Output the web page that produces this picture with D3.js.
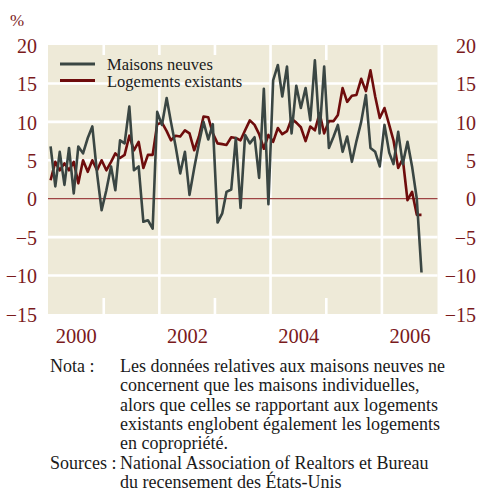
<!DOCTYPE html>
<html><head><meta charset="utf-8">
<script src="https://cdn.jsdelivr.net/npm/d3@7"></script>
<style>
html,body{margin:0;padding:0;background:#fff;}
svg{display:block;}
</style>
</head><body>
<svg id="chart" width="477" height="492"></svg>
<script>
// ---- data ----
const startYear = 2000;
const seriesNames = ["Maisons neuves", "Logements existants"];
// monthly year-over-year % change, Jan 2000 .. Sep 2006
const maisonsNeuves = [
  6.8, 1.6, 6.1, 1.8, 6.6, 0.7, 6.8, 5.9, 7.9, 9.4, 3.3, -1.5,
  1.1, 4.2, 1.1, 7.6, 7.2, 12.0, 3.7, 4.2, -3.0, -2.8, -3.9, 11.3,
  9.6, 13.1, 10.0, 6.8, 3.3, 6.1, 0.5, 4.0, 7.2, 10.0, 7.7, 9.7,
  -3.1, -1.9, 0.9, 1.2, 7.9, -1.2, 8.3, 7.2, 8.0, 2.7, 14.3, -0.7,
  15.4, 17.4, 13.3, 17.2, 8.5, 14.7, 11.8, 14.4, 10.2, 18.0, 8.5, 17.2,
  6.6, 8.1, 9.6, 6.1, 8.1, 4.8, 7.5, 10.0, 13.5, 6.6, 6.1, 4.2,
  9.6, 6.0, 4.5, 8.7, 4.5, 7.4, 4.2, 0.0, -9.6
];
const logementsExistants = [
  2.4, 4.8, 3.7, 4.6, 3.7, 4.8, 2.0, 5.0, 3.5, 5.0, 3.7, 5.0,
  3.7, 4.8, 5.9, 5.3, 5.7, 8.2, 6.3, 7.4, 4.0, 5.7, 5.7, 9.7,
  9.9, 8.8, 7.6, 8.2, 8.1, 8.9, 8.5, 6.3, 8.1, 10.7, 10.6, 8.5,
  7.2, 7.1, 7.0, 8.0, 7.9, 7.6, 8.9, 10.2, 9.6, 8.4, 6.5, 8.3,
  7.4, 9.2, 8.4, 8.8, 10.4, 9.9, 9.3, 7.5, 9.4, 8.9, 11.1, 8.5,
  10.1, 10.1, 10.9, 14.4, 12.6, 13.4, 13.5, 15.6, 14.0, 16.7, 13.3, 10.5,
  11.8, 9.6, 7.6, 4.0, 5.2, -0.2, 0.9, -2.1, -2.1
];
const yTicks = [20, 15, 10, 5, 0, -5, -10, -15];
const yearLabels = ["2000", "2002", "2004", "2006"];
const gridYears = [2002, 2004, 2006];
const stubYears = [2001, 2003, 2005];
const noteLabel = "Nota :";
const noteLines = [
  "Les données relatives aux maisons neuves ne",
  "concernent que les maisons individuelles,",
  "alors que celles se rapportant aux logements",
  "existants englobent également les logements",
  "en copropriété."
];
const sourceLabel = "Sources :";
const sourceLines = [
  "National Association of Realtors et Bureau",
  "du recensement des États-Unis"
];

// ---- layout ----
const svg = d3.select("#chart");
const L = 48, R = 437.5, T = 45, B = 314;
const C = {
  bg: "#eeead8", grid: "#ffffff", grey: "#3a4643", red: "#6e0c0c",
  zero: "#9e4444", label: "#7a1a1c", text: "#1a1a1a"
};
const serif = "'Liberation Serif','Times New Roman',serif";

const x = d3.scaleTime()
  .domain([new Date(startYear, 0, 1), new Date(startYear + 7, 0, 1)])
  .range([L, R]);
const y = d3.scaleLinear().domain([-15, 20]).range([B, T]);
const dateOf = i => new Date(startYear, i, 18);

svg.append("rect").attr("x", L).attr("y", T).attr("width", R - L).attr("height", B - T).attr("fill", C.bg);

// horizontal gridlines
svg.append("g").selectAll("line").data(yTicks.filter(v => v !== 0 && v !== 20 && v !== -15)).join("line")
  .attr("x1", L).attr("x2", R).attr("y1", d => y(d)).attr("y2", d => y(d))
  .attr("stroke", C.grid).attr("stroke-width", 2.6);
// vertical gridlines
svg.append("g").selectAll("line").data(gridYears).join("line")
  .attr("x1", d => x(new Date(d, 0, 1))).attr("x2", d => x(new Date(d, 0, 1)))
  .attr("y1", T).attr("y2", B).attr("stroke", C.grid).attr("stroke-width", 2.6);
const stubs = svg.append("g");
stubYears.forEach(yr => {
  const xx = x(new Date(yr, 0, 1));
  stubs.append("line").attr("x1", xx).attr("x2", xx).attr("y1", T).attr("y2", T + 15)
    .attr("stroke", C.grid).attr("stroke-width", 2.6);
  stubs.append("line").attr("x1", xx).attr("x2", xx).attr("y1", B - 16).attr("y2", B)
    .attr("stroke", C.grid).attr("stroke-width", 2.6);
});

// legend box background
svg.append("rect").attr("x", L).attr("y", 55).attr("width", 205).attr("height", 27).attr("fill", C.bg);

// zero line
svg.append("line").attr("x1", L).attr("x2", R).attr("y1", y(0)).attr("y2", y(0))
  .attr("stroke", C.zero).attr("stroke-width", 1.2);

// lines
const line = d3.line().x((d, i) => x(dateOf(i))).y(d => y(d));
svg.append("path").datum(logementsExistants).attr("d", line)
  .attr("fill", "none").attr("stroke", C.red).attr("stroke-width", 2.6).attr("stroke-linejoin", "round");
svg.append("path").datum(maisonsNeuves).attr("d", line)
  .attr("fill", "none").attr("stroke", C.grey).attr("stroke-width", 2.6).attr("stroke-linejoin", "round");

// legend
const leg = svg.append("g");
[[C.grey, 64, 69.5], [C.red, 80.5, 86.5]].forEach((c, k) => {
  leg.append("line").attr("x1", 60).attr("x2", 95).attr("y1", c[1]).attr("y2", c[1])
    .attr("stroke", c[0]).attr("stroke-width", 2.8);
  leg.append("text").attr("x", 107).attr("y", c[2]).text(seriesNames[k])
    .attr("font-family", serif).attr("font-size", 16.5).attr("fill", C.text);
});

// y axes (left + right)
const yAxL = d3.axisLeft(y).tickValues(yTicks).tickSize(0).tickPadding(0);
const gL = svg.append("g").attr("transform", "translate(37,0)").call(yAxL);
const yAxR = d3.axisLeft(y).tickValues(yTicks).tickSize(0).tickPadding(0);
const gR = svg.append("g").attr("transform", "translate(476,0)").call(yAxR);
[gL, gR].forEach(g => {
  g.select(".domain").remove();
  g.selectAll("text").attr("font-family", serif).attr("font-size", 20)
    .attr("fill", C.label).attr("dy", "0.36em").attr("x", 0);
});
svg.append("text").attr("x", 10).attr("y", 26).text("%")
  .attr("font-family", serif).attr("font-size", 17).attr("fill", C.label);

// x axis labels
const xAx = d3.axisBottom(x)
  .tickValues(yearLabels.map(s => new Date(+s, 6, 1)))
  .tickFormat((d, i) => yearLabels[i]).tickSize(0).tickPadding(0);
const gX = svg.append("g").attr("transform", "translate(0,343)").call(xAx);
gX.select(".domain").remove();
gX.selectAll("text").attr("font-family", serif).attr("font-size", 20.5)
  .attr("fill", C.label).attr("dy", 0).attr("y", 0);

// notes
const notes = svg.append("g").attr("font-family", serif).attr("font-size", 18).attr("fill", C.text);
const lh = 19.3, base0 = 372;
notes.append("text").attr("x", 50).attr("y", base0).text(noteLabel);
noteLines.forEach((s, i) => notes.append("text").attr("x", 120).attr("y", base0 + i * lh).text(s));
notes.append("text").attr("x", 50).attr("y", base0 + 5 * lh).text(sourceLabel);
sourceLines.forEach((s, i) => notes.append("text").attr("x", 120).attr("y", base0 + (5 + i) * lh).text(s));
</script>
</body></html>
